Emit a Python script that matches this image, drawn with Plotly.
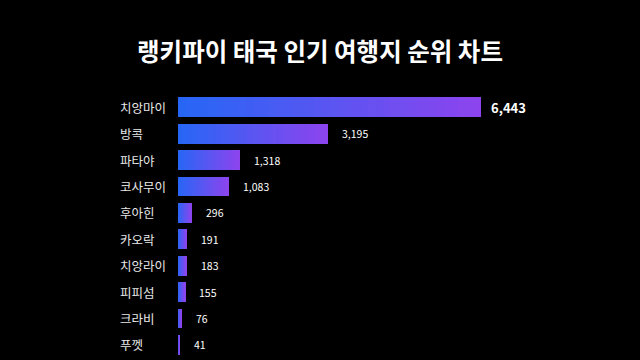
import plotly.graph_objects as go

categories = ["치앙마이", "방콕", "파타야", "코사무이", "후아힌", "카오락", "치앙라이", "피피섬", "크라비", "푸껫"]
values = [6443, 3195, 1318, 1083, 296, 191, 183, 155, 76, 41]
value_labels = ["6,443", "3,195", "1,318", "1,083", "296", "191", "183", "155", "76", "41"]
title_text = "랭키파이 태국 인기 여행지 순위 차트"

FONT = "Noto Sans CJK KR"
c0 = (39, 102, 245)
c1 = (140, 68, 238)
N = 40

fig = go.Figure()
for i in range(N):
    t = i / (N - 1)
    col = "rgb(%d,%d,%d)" % tuple(round(a + (b - a) * t) for a, b in zip(c0, c1))
    fig.add_trace(go.Bar(
        y=categories, x=[v / N for v in values], orientation="h",
        marker=dict(color=col, line=dict(width=0)), width=0.75,
        hoverinfo="skip", showlegend=False,
    ))

annotations = []
for i, (c, v, lab) in enumerate(zip(categories, values, value_labels)):
    annotations.append(dict(x=0, xref="paper", xshift=-60, y=c, yref="y", text=c,
                            xanchor="left", yanchor="middle", showarrow=False,
                            font=dict(family=FONT, size=12.5, color="#e8e8e8")))
    first = i == 0
    annotations.append(dict(x=v, xref="x", y=c, yref="y",
                            text=("<b>%s</b>" % lab) if first else lab,
                            xanchor="left", yanchor="middle", showarrow=False,
                            xshift=8 if first else 12,
                            font=dict(family=FONT, size=13 if first else 10.5, color="#ffffff")))

fig.update_layout(
    width=640, height=360,
    paper_bgcolor="#000000", plot_bgcolor="#000000",
    barmode="stack", bargap=0.25,
    margin=dict(l=178, r=40, t=94, b=2),
    title=dict(text="<b>%s</b>" % title_text, x=0.5, xanchor="center", y=0.855, yanchor="middle",
               font=dict(family=FONT, size=24.5, color="#ffffff")),
    xaxis=dict(range=[0, 6443 * 422 / 303], visible=False, fixedrange=True),
    yaxis=dict(autorange=False, range=[9.5, -0.5], categoryorder="array", categoryarray=categories,
               showticklabels=False, showgrid=False, zeroline=False, fixedrange=True),
    annotations=annotations,
    font=dict(family=FONT),
)
fig.write_html("out.html", config={"displayModeBar": False},
               post_script="document.body.style.margin='0';document.body.style.background='#000';")
